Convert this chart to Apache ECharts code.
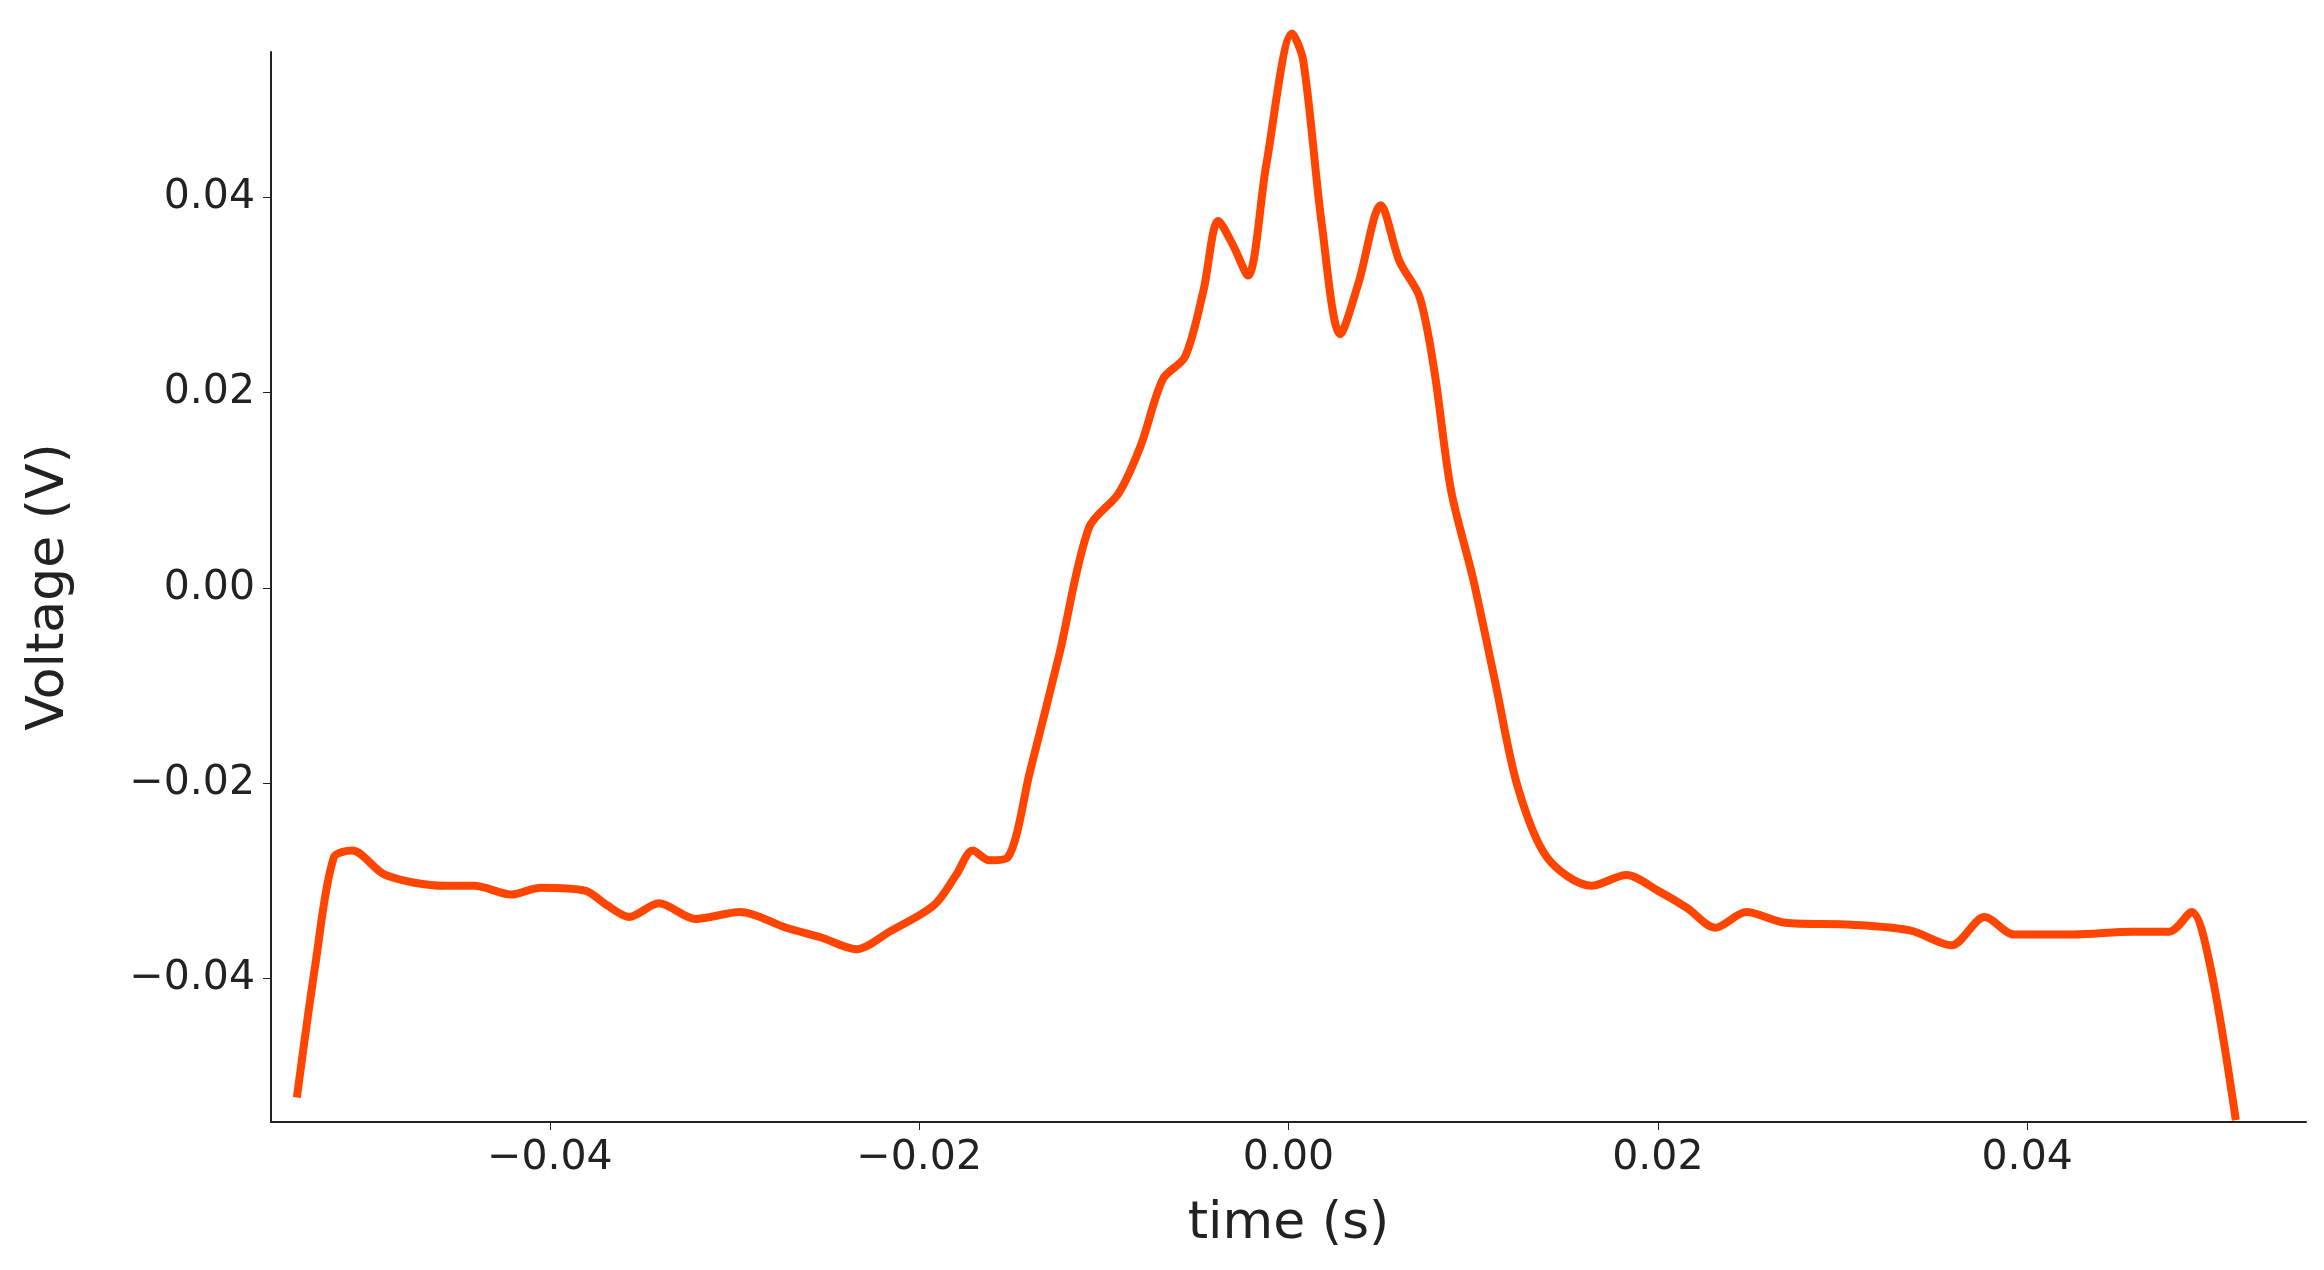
<!DOCTYPE html>
<html><head><meta charset="utf-8">
<script src="https://cdn.jsdelivr.net/npm/echarts@6/dist/echarts.min.js"></script>
<style>html,body{margin:0;padding:0;background:#fff}#c{width:2324px;height:1270px}</style>
</head><body><div id="c"></div>
<script>
const timeS = [-0.0537,-0.0527,-0.0517,-0.0507,-0.0489,-0.0457,-0.0441,-0.0421,-0.0405,-0.0381,-0.0369,-0.0357,-0.0341,-0.0321,-0.0297,-0.0272,-0.0253,-0.0234,-0.0216,-0.0192,-0.0180,-0.0171,-0.0162,-0.0152,-0.0140,-0.0124,-0.0108,-0.0092,-0.0080,-0.0068,-0.0056,-0.0046,-0.0038,-0.0030,-0.0022,-0.0012,0.0002,0.0008,0.0018,0.0028,0.0038,0.0050,0.0060,0.0071,0.0079,0.0088,0.0100,0.0112,0.0124,0.0140,0.0164,0.0183,0.0200,0.0216,0.0231,0.0248,0.0269,0.0305,0.0337,0.0359,0.0377,0.0393,0.0425,0.0457,0.0477,0.0489,0.0499,0.0513];
const voltage = [-0.0522,-0.0386,-0.0276,-0.0269,-0.0294,-0.0305,-0.0305,-0.0314,-0.0307,-0.0310,-0.0325,-0.0337,-0.0323,-0.0339,-0.0332,-0.0348,-0.0358,-0.0370,-0.0352,-0.0325,-0.0294,-0.0269,-0.0279,-0.0276,-0.0188,-0.0067,0.0062,0.0097,0.0146,0.0214,0.0237,0.0305,0.0376,0.0351,0.0320,0.0434,0.0568,0.0540,0.0373,0.0260,0.0313,0.0392,0.0335,0.0298,0.0222,0.0100,0.0009,-0.0097,-0.0203,-0.0276,-0.0305,-0.0294,-0.0310,-0.0328,-0.0348,-0.0332,-0.0343,-0.0345,-0.0351,-0.0366,-0.0337,-0.0355,-0.0355,-0.0352,-0.0352,-0.0332,-0.0386,-0.0545];
const ticks = [-0.04,-0.02,0,0.02,0.04];
const fmt = v => v.toFixed(2).replace('-', '\u2212');
const font = 'DejaVu Sans';
const chart = echarts.init(document.getElementById('c'));
chart.setOption({
  animation:false,
  grid:{left:271,right:18,top:52,bottom:148},
  xAxis:{type:'value',min:-0.0551,max:0.0551,name:'time (s)',nameLocation:'middle',nameGap:76,
    nameTextStyle:{fontFamily:font,fontSize:52,color:'#222'},
    axisLine:{onZero:false,lineStyle:{color:'#222',width:2}},splitLine:{show:false},
    axisTick:{customValues:ticks,length:8,lineStyle:{color:'#222'}},
    axisLabel:{customValues:ticks,formatter:fmt,fontFamily:font,fontSize:41,color:'#222',margin:16}},
  yAxis:{type:'value',min:-0.0547,max:0.0549,name:'Voltage (V)',nameLocation:'middle',nameGap:196,
    nameTextStyle:{fontFamily:font,fontSize:52,color:'#222'},
    axisLine:{show:true,onZero:false,lineStyle:{color:'#222',width:2}},splitLine:{show:false},
    axisTick:{show:true,customValues:ticks,length:8,lineStyle:{color:'#222'}},
    axisLabel:{customValues:ticks,formatter:fmt,fontFamily:font,fontSize:41,color:'#222',margin:16}},
  series:[{type:'line',data:timeS.map((t,i)=>[t,voltage[i]]),smooth:0.3,showSymbol:false,clip:false,
    lineStyle:{color:'#ff4500',width:8}}]
});
</script></body></html>
